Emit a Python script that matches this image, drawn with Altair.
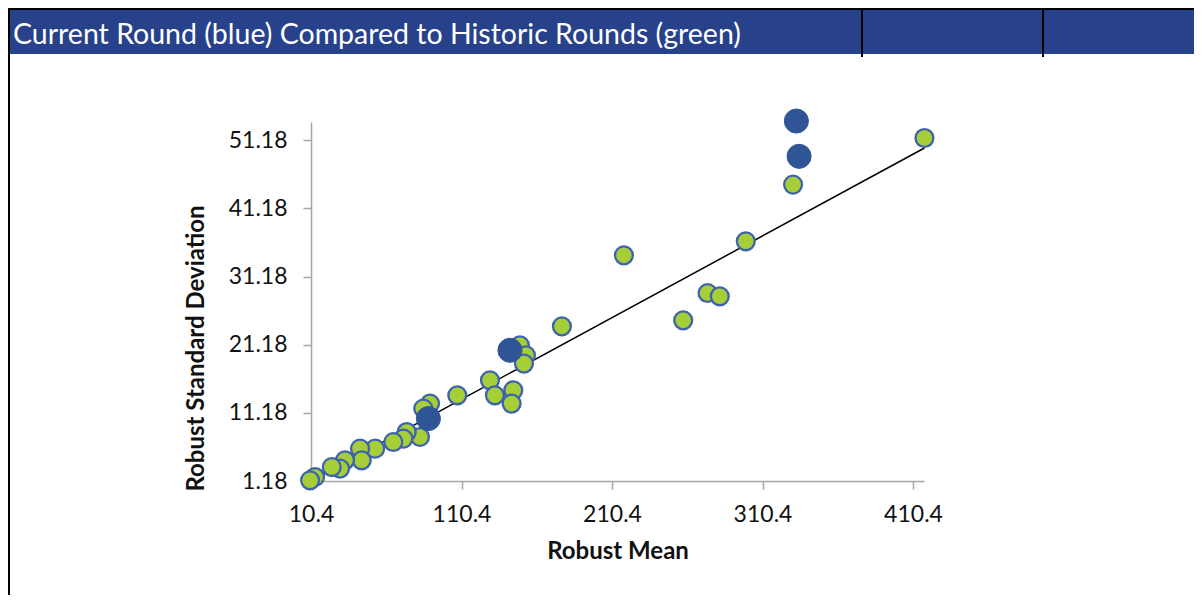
import altair as alt
import pandas as pd

# Historic rounds (green)
hist_x = [418.0, 330.7, 299.3, 218.3, 273.9, 282.0, 257.7, 177.1, 149.2, 153.2,
          151.9, 129.3, 144.8, 132.6, 143.7, 107.6, 89.5, 85.0, 82.8, 74.0,
          71.8, 65.1, 53.0, 43.0, 44.1, 33.0, 29.7, 24.2, 13.1, 9.8]
hist_y = [51.52, 44.68, 36.36, 34.30, 28.77, 28.29, 24.76, 23.88, 21.10, 19.63,
          18.41, 15.96, 14.49, 13.76, 12.54, 13.76, 12.54, 11.81, 7.64, 8.37,
          7.40, 6.90, 5.93, 5.93, 4.22, 4.22, 3.00, 3.23, 1.77, 1.28]

# Current round (blue)
cur_x = [332.9, 334.7, 142.6, 88.4]
cur_y = [54.01, 48.83, 20.36, 10.34]

# Trend line end points
trend_x = [11.0, 418.0]
trend_y = [1.25, 50.05]

x_ticks = [10.4, 110.4, 210.4, 310.4, 410.4]
y_ticks = [1.18, 11.18, 21.18, 31.18, 41.18, 51.18]
x_domain = [10.4, 417.7]
y_domain = [1.18, 53.87]

title_text = "Current Round (blue) Compared to Historic Rounds (green)"
x_title = "Robust Mean"
y_title = "Robust Standard Deviation"

W, H = 613, 359
PAD_L, PAD_T = 303, 114
PAD_R = 1186 - PAD_L - W
PAD_B = 587 - PAD_T - H

FONT = "Lato"
BAR_BLUE = "#27428a"
PT_BLUE = "#2f5597"
GREEN = "#a6ce39"
STROKE = "#3d63ad"

hist = pd.DataFrame({"x": hist_x, "y": hist_y})
cur = pd.DataFrame({"x": cur_x, "y": cur_y})
trend = pd.DataFrame({"x": trend_x, "y": trend_y})
one = pd.DataFrame({"a": [0]})

xs = alt.Scale(domain=x_domain, nice=False, zero=False)
ys = alt.Scale(domain=y_domain, nice=False, zero=False)

x_axis = alt.Axis(values=x_ticks, format=".1f", title=x_title, grid=False,
                  tickSize=8, labelPadding=14, titlePadding=13, labelFlush=False)
y_axis = alt.Axis(values=y_ticks, format=".2f", title=y_title, grid=False,
                  tickSize=8, labelPadding=16, titlePadding=20, labelFlush=False,
                  titleY=226)

trend_layer = alt.Chart(trend).mark_line(color="black", strokeWidth=1.5).encode(
    x=alt.X("x:Q", scale=xs, axis=x_axis),
    y=alt.Y("y:Q", scale=ys, axis=y_axis),
)

hist_layer = alt.Chart(hist).mark_point(
    filled=True, fill=GREEN, stroke=STROKE, strokeWidth=2.3, size=320, opacity=1
).encode(x=alt.X("x:Q", scale=xs), y=alt.Y("y:Q", scale=ys))

cur_layer = alt.Chart(cur).mark_point(
    filled=True, fill=PT_BLUE, stroke=PT_BLUE, strokeWidth=1, size=580, opacity=1
).encode(x=alt.X("x:Q", scale=xs), y=alt.Y("y:Q", scale=ys))

# Header bar decorations
bar = alt.Chart(one).mark_rect(color=BAR_BLUE).encode(
    x=alt.value(-302), x2=alt.value(W + PAD_R), y=alt.value(-112), y2=alt.value(-68)
)
top_line = alt.Chart(one).mark_rule(color="black", strokeWidth=2).encode(
    x=alt.value(-303), x2=alt.value(W + PAD_R), y=alt.value(-113)
)
left_line = alt.Chart(one).mark_rule(color="black", strokeWidth=2).encode(
    x=alt.value(-302), y=alt.value(-114), y2=alt.value(H + PAD_B)
)
sep1 = alt.Chart(one).mark_rule(color="black", strokeWidth=2).encode(
    x=alt.value(551), y=alt.value(-112), y2=alt.value(-65)
)
sep2 = alt.Chart(one).mark_rule(color="black", strokeWidth=2).encode(
    x=alt.value(732), y=alt.value(-112), y2=alt.value(-65)
)
title = alt.Chart(one).mark_text(
    text=title_text, color="white", font=FONT, fontSize=28.5, align="left",
    baseline="alphabetic"
).encode(x=alt.value(-298), y=alt.value(-78))

chart = alt.layer(
    bar, top_line, left_line, sep1, sep2, title, trend_layer, hist_layer, cur_layer
).properties(
    width=W, height=H,
    autosize=alt.AutoSizeParams(type="none"),
    padding={"left": PAD_L, "top": PAD_T, "right": PAD_R, "bottom": PAD_B},
    background="white",
).configure_view(stroke=None).configure_axis(
    domainColor="#a6a6a6", tickColor="#a6a6a6", labelColor="#111111",
    labelFont=FONT, labelFontSize=23, titleFont=FONT, titleFontSize=24,
    titleFontWeight="bold", titleColor="#111111", domainWidth=1.5, tickWidth=1.5
)

chart.save("out.html", embed_options={"renderer": "svg", "actions": False})
